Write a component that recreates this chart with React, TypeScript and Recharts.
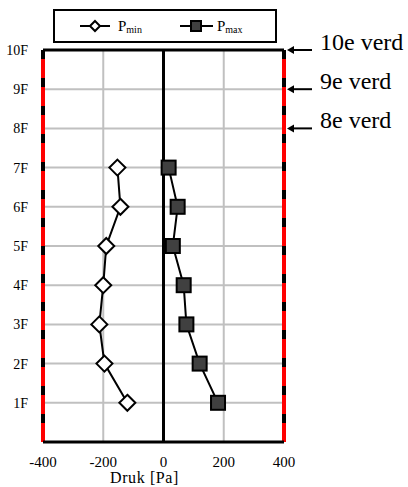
import React from 'react';
import {
  LineChart,
  Line,
  XAxis,
  YAxis,
  CartesianGrid,
  ReferenceLine,
  ReferenceDot,
  Legend,
} from 'recharts';

// floor levels (1F..7F) with min / max pressure in Pa
const floors = [1, 2, 3, 4, 5, 6, 7];
const pMin = [-120, -196, -213, -200, -190, -143, -153];
const pMax = [181, 120, 76, 67, 31, 47, 17];

const xTicks = [-400, -200, 0, 200, 400];
const yTicks = [1, 2, 3, 4, 5, 6, 7, 8, 9, 10];

// storey markers on the right edge
const markLevels = [10, 9, 8];
const markLabels = ['10e verd', '9e verd', '8e verd'];

const rows = floors.map((f, i) => ({ floor: f, pmin: pMin[i], pmax: pMax[i] }));

const FONT = "'Liberation Serif', 'Times New Roman', serif";

const Diamond = (props: any) => {
  const { cx, cy } = props;
  if (cx == null || cy == null) return null;
  const r = 8;
  return (
    <path
      d={`M${cx},${cy - r} L${cx + r},${cy} L${cx},${cy + r} L${cx - r},${cy} Z`}
      fill="#fff"
      stroke="#000"
      strokeWidth={2}
    />
  );
};

const Square = (props: any) => {
  const { cx, cy } = props;
  if (cx == null || cy == null) return null;
  const s = 14;
  return (
    <rect
      x={cx - s / 2}
      y={cy - s / 2}
      width={s}
      height={s}
      fill="#404040"
      stroke="#000"
      strokeWidth={2}
    />
  );
};

const LegendBox = () => (
  <div
    style={{
      width: 224,
      height: 34,
      boxSizing: 'border-box',
      border: '2px solid #000',
      background: '#fff',
      position: 'relative',
    }}
  >
    <svg width={220} height={30} style={{ position: 'absolute', left: 0, top: 0 }}>
      <line x1={25} y1={15} x2={55} y2={15} stroke="#000" strokeWidth={2} />
      <path d="M40,10 L45,15 L40,20 L35,15 Z" fill="#fff" stroke="#000" strokeWidth={2} />
      <text x={63} y={20} fontSize={15} style={{ fontFamily: FONT }}>
        P<tspan fontSize={10} dy={2}>min</tspan>
      </text>
      <line x1={125} y1={15} x2={158} y2={15} stroke="#000" strokeWidth={2} />
      <rect x={136} y={10} width={10} height={10} fill="#404040" stroke="#000" strokeWidth={2} />
      <text x={162} y={20} fontSize={15} style={{ fontFamily: FONT }}>
        P<tspan fontSize={10} dy={2}>max</tspan>
      </text>
    </svg>
  </div>
);

const StoreyMark = (props: any) => {
  const { cx, cy, label } = props;
  return (
    <g>
      <line x1={cx + 6} y1={cy} x2={cx + 28} y2={cy} stroke="#000" strokeWidth={2} />
      <path d={`M${cx + 3},${cy} L${cx + 10},${cy - 4} L${cx + 10},${cy + 4} Z`} fill="#000" />
      <text x={cx + 36} y={cy} fontSize={24} style={{ fontFamily: FONT }} fill="#000">
        {label}
      </text>
    </g>
  );
};

export default function App() {
  return (
    <div style={{ position: 'absolute', left: 0, top: 0, fontFamily: FONT }}>
      <style>{`.recharts-wrapper text { font-family: ${FONT}; }`}</style>
      <LineChart
        width={408}
        height={487}
        layout="vertical"
        data={rows}
        margin={{ top: 50, right: 124, bottom: 0, left: 0 }}
      >
        <CartesianGrid stroke="#c0c0c0" strokeWidth={2} />
        <XAxis
          type="number"
          domain={[-400, 400]}
          ticks={xTicks}
          allowDataOverflow
          height={45}
          axisLine={{ stroke: '#000', strokeWidth: 3 }}
          tickLine={false}
          tickSize={6}
          tickMargin={8}
          tick={{ fontSize: 15, fill: '#000' }}
          label={{
            value: 'Druk [Pa]',
            position: 'insideBottom',
            offset: 4,
            dx: -19,
            fontSize: 16,
            letterSpacing: 0.6,
            fill: '#000',
          }}
        />
        <YAxis
          type="number"
          dataKey="floor"
          domain={[0, 10]}
          ticks={yTicks}
          reversed
          width={43}
          axisLine={false}
          tickLine={false}
          tickSize={6}
          tickMargin={9}
          tickFormatter={(v) => `${v}F`}
          tick={{ fontSize: 14, fill: '#000' }}
        />
        <ReferenceLine y={10} stroke="#000" strokeWidth={3} />
        <ReferenceLine x={0} stroke="#000" strokeWidth={3} />
        {/* side walls: black line with red dashes on top */}
        <ReferenceLine x={-400} stroke="#000" strokeWidth={4} />
        <ReferenceLine x={-400} stroke="#ff0000" strokeWidth={4} strokeDasharray="19 9" />
        <ReferenceLine x={400} stroke="#000" strokeWidth={4} />
        <ReferenceLine x={400} stroke="#ff0000" strokeWidth={4} strokeDasharray="19 9" />
        {markLevels.map((lv, i) => (
          <ReferenceDot
            key={lv}
            x={400}
            y={lv}
            ifOverflow="visible"
            shape={(p: any) => <StoreyMark {...p} label={markLabels[i]} />}
          />
        ))}
        <Legend
          layout="horizontal"
          align="center"
          verticalAlign="middle"
          wrapperStyle={{ position: 'absolute', left: 53, top: 9, width: 224, height: 34 }}
          content={() => <LegendBox />}
        />
        <Line
          dataKey="pmin"
          name="min"
          stroke="#000"
          strokeWidth={2}
          dot={<Diamond />}
          isAnimationActive={false}
        />
        <Line
          dataKey="pmax"
          name="max"
          stroke="#000"
          strokeWidth={2}
          dot={<Square />}
          isAnimationActive={false}
        />
      </LineChart>
    </div>
  );
}
